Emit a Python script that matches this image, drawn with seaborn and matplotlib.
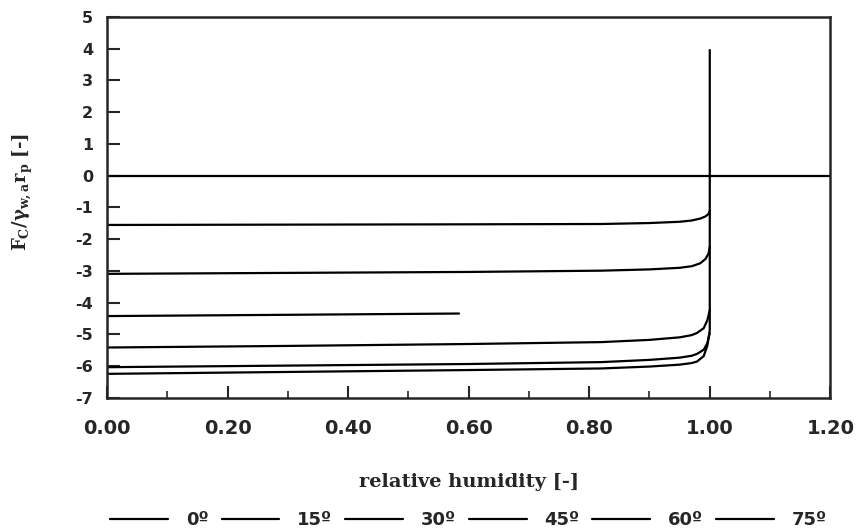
import numpy as np
import matplotlib
matplotlib.use("Agg")
import matplotlib.pyplot as plt
from matplotlib.ticker import MultipleLocator, FormatStrFormatter
import pandas as pd
import seaborn as sns

# contact angles (legend) and curves
angles = ["0º", "15º", "30º", "45º", "60º", "75º"]

rh_0 = [0.00, 0.30, 0.60, 0.82, 0.90, 0.95, 0.97, 0.979, 0.99, 0.996, 1.00, 1.00]
fc_0 = [-6.24, -6.18, -6.12, -6.07, -6.01, -5.95, -5.90, -5.85, -5.68, -5.35, -4.86, 3.96]

rh_15 = [0.00, 0.30, 0.60, 0.82, 0.90, 0.95, 0.97, 0.979, 0.99, 0.996, 1.00]
fc_15 = [-6.03, -5.98, -5.93, -5.87, -5.80, -5.73, -5.67, -5.61, -5.48, -5.27, -4.96]

rh_30 = [0.00, 0.30, 0.60, 0.82, 0.90, 0.95, 0.97, 0.979, 0.99, 0.996, 1.00]
fc_30 = [-5.41, -5.36, -5.30, -5.24, -5.17, -5.09, -5.02, -4.95, -4.80, -4.55, -4.23]

rh_45 = [0.00, 0.30, 0.584]
fc_45 = [-4.42, -4.38, -4.34]

rh_60 = [0.00, 0.30, 0.60, 0.82, 0.90, 0.95, 0.97, 0.984, 0.993, 0.998, 1.00]
fc_60 = [-3.09, -3.06, -3.03, -2.99, -2.95, -2.90, -2.85, -2.76, -2.62, -2.45, -2.24]

rh_75 = [0.00, 0.30, 0.60, 0.82, 0.90, 0.95, 0.97, 0.984, 0.993, 0.998, 1.00]
fc_75 = [-1.55, -1.54, -1.53, -1.52, -1.49, -1.45, -1.41, -1.35, -1.28, -1.20, -1.11]

rh_all = [rh_0, rh_15, rh_30, rh_45, rh_60, rh_75]
fc_all = [fc_0, fc_15, fc_30, fc_45, fc_60, fc_75]

frames = []
for a, x, y in zip(angles, rh_all, fc_all):
    frames.append(pd.DataFrame({"rh": x, "fc": y, "angle": a}))
df = pd.concat(frames, ignore_index=True)

sns.set_style("ticks")
plt.rcParams["font.family"] = ["DejaVu Sans"]
plt.rcParams["mathtext.fontset"] = "dejavuserif"
plt.rcParams["axes.unicode_minus"] = False

fig = plt.figure(figsize=(8.56, 5.31), dpi=100)
ax = fig.add_axes([0.125, 0.2505, 0.845, 0.7175])

sns.lineplot(data=df, x="rh", y="fc", hue="angle", units="angle", estimator=None,
             sort=False, palette=["black"] * 6, linewidth=1.6, ax=ax, legend=True)
ax.axhline(0, color="black", linewidth=1.6)

ax.set_xlim(0, 1.2)
ax.set_ylim(-7, 5)
ax.xaxis.set_major_locator(MultipleLocator(0.2))
ax.xaxis.set_minor_locator(MultipleLocator(0.1))
ax.xaxis.set_major_formatter(FormatStrFormatter("%.2f"))
ax.yaxis.set_major_locator(MultipleLocator(1))
ax.tick_params(axis="x", which="major", direction="in", length=9, width=1.5, pad=15,
               labelsize=14)
ax.tick_params(axis="x", which="minor", direction="in", length=5, width=1.2)
ax.tick_params(axis="y", direction="in", length=9, width=1.5, pad=10, labelsize=11.5)
for lab in ax.get_xticklabels() + ax.get_yticklabels():
    lab.set_fontweight("bold")
for s in ax.spines.values():
    s.set_linewidth(1.8)
    s.set_visible(True)

ax.set_xlabel("relative humidity [-]", family="DejaVu Serif", fontweight="bold",
              fontsize=14, labelpad=25)
ax.set_ylabel(r"$\mathbf{F_C/\gamma_{w,a}r_p}$ [-]", family="DejaVu Serif",
              fontweight="bold", fontsize=13)
ax.yaxis.set_label_coords(-0.1, 0.54)

sns.move_legend(ax, "center", bbox_to_anchor=(0.5, -0.32), ncol=6, title=None,
                frameon=False, handlelength=3.2, columnspacing=0.7, handletextpad=1.0,
                prop={"weight": "bold", "size": 13})

fig.savefig("out.png", dpi=100)
